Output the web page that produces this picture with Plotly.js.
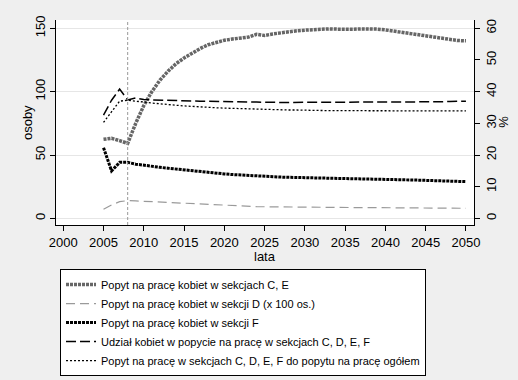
<!DOCTYPE html>
<html>
<head>
<meta charset="utf-8">
<script src="https://cdn.plot.ly/plotly-3.0.1.min.js"></script>
<style>html,body{margin:0;padding:0;background:#EFEFEF;}#chart{width:518px;height:380px;}</style>
</head>
<body>
<div id="chart"></div>
<script>
const years = [2005,2006,2007,2008,2009,2010,2011,2012,2013,2014,2015,2016,2017,2018,2019,2020,2021,2022,2023,2024,2025,2026,2027,2028,2029,2030,2031,2032,2033,2034,2035,2036,2037,2038,2039,2040,2041,2042,2043,2044,2045,2046,2047,2048,2049,2050];

const popytCE = [62.4,63.2,61.3,59.2,75,89,100,109,116,122,126.5,130.5,134,137,139,140.5,141.5,142.3,143,145.2,144.3,145.5,146.5,147.3,148,148.5,149,149.3,149.5,149.3,149.1,149.2,149.5,149.6,149.3,148.7,147.8,146.9,146,145,144.2,143.2,142.2,141.2,140.3,140.1];

const popytD = [7.2,10.6,13.2,14.0,13.8,13.5,13.2,12.9,12.6,12.3,11.9,11.5,11.1,10.7,10.4,10.1,9.9,9.7,9.5,9.3,9.2,9.1,9.0,8.95,8.9,8.85,8.8,8.75,8.7,8.65,8.6,8.55,8.5,8.5,8.45,8.4,8.35,8.3,8.3,8.25,8.2,8.15,8.1,8.1,8.05,8.0];

const popytF = [55.8,37.4,44.2,44.2,42.8,41.8,41.0,40.3,39.6,38.9,38.2,37.5,36.9,36.3,35.7,35.1,34.6,34.2,33.8,33.4,33.0,32.8,32.6,32.4,32.3,32.2,32.1,32.0,31.9,31.8,31.7,31.6,31.5,31.4,31.2,31.0,30.8,30.6,30.4,30.2,30.0,29.8,29.5,29.3,29.1,29.0];

const udzial = [32.6,37.3,40.8,37.4,38.0,37.5,37.4,37.3,37.2,37.2,37.1,37.1,37.0,37.0,36.9,36.9,36.8,36.8,36.7,36.7,36.6,36.6,36.6,36.6,36.6,36.6,36.6,36.6,36.6,36.6,36.6,36.6,36.6,36.6,36.6,36.7,36.7,36.7,36.7,36.7,36.8,36.8,36.8,36.9,36.9,37.0];

const relacja = [30.3,33.7,37.0,37.3,37.1,36.7,36.4,36.1,35.9,35.7,35.5,35.3,35.2,35.0,34.9,34.8,34.7,34.6,34.5,34.5,34.4,34.3,34.3,34.2,34.2,34.1,34.1,34.1,34.0,34.0,34.0,34.0,34.0,34.0,33.9,33.9,33.9,33.9,33.9,33.9,33.9,33.9,33.9,33.9,33.9,33.9];

const seriesNames = [
  "Popyt na pracę kobiet w sekcjach C, E",
  "Popyt na pracę kobiet w sekcji D (x 100 os.)",
  "Popyt na pracę kobiet w sekcji F",
  "Udział kobiet w popycie na pracę w sekcjach C, D, E, F",
  "Popyt na pracę w sekcjach C, D, E, F do popytu na pracę ogółem"
];

const xTicks = [2000,2005,2010,2015,2020,2025,2030,2035,2040,2045,2050];
const yTicksLeft = [0,50,100,150];
const yTicksRight = [0,10,20,30,40,50,60];
const refYear = [2008];
const axisTitles = {x: "lata", yLeft: "osoby", yRight: "%"};

const FONT = "Liberation Sans, Arial, Helvetica, sans-serif";

const traces = [
  {x: years, y: popytCE, name: seriesNames[0], type: 'scatter', mode: 'lines',
   line: {color: '#666666', width: 3.5, dash: '3px,1px'}},
  {x: years, y: popytD, name: seriesNames[1], type: 'scatter', mode: 'lines',
   line: {color: '#9A9A9A', width: 1.2, dash: '9px,5px'}},
  {x: years, y: popytF, name: seriesNames[2], type: 'scatter', mode: 'lines',
   line: {color: '#000000', width: 3, dash: '3px,1px'}},
  {x: years, y: udzial, name: seriesNames[3], type: 'scatter', mode: 'lines', yaxis: 'y2',
   line: {color: '#000000', width: 1.5, dash: '10px,4px'}},
  {x: years, y: relacja, name: seriesNames[4], type: 'scatter', mode: 'lines', yaxis: 'y2',
   line: {color: '#000000', width: 1.3, dash: '2px,2px'}}
];

const layout = {
  width: 518, height: 380,
  margin: {l: 56, r: 44, t: 20, b: 155, pad: 0, autoexpand: false},
  paper_bgcolor: '#EFEFEF',
  plot_bgcolor: '#FFFFFF',
  font: {family: FONT, size: 13, color: '#000'},
  showlegend: true,
  xaxis: {
    range: [1999.1, 2051.0], tickvals: xTicks, ticks: 'outside', ticklen: 5, tickcolor: '#000',
    showline: true, linecolor: '#000', linewidth: 1, showgrid: false, zeroline: false,
    tickfont: {size: 13}
  },
  yaxis: {
    range: [-5.2, 156.5], tickvals: yTicksLeft, tickangle: -90, ticks: 'outside', ticklen: 5, tickcolor: '#000',
    showline: true, linecolor: '#000', linewidth: 1, showgrid: true, gridcolor: '#E6E6E6', gridwidth: 1,
    zeroline: false, tickfont: {size: 13}
  },
  yaxis2: {
    overlaying: 'y', side: 'right',
    range: [-5.2/2.5, 156.5/2.5], tickvals: yTicksRight, tickangle: -90, ticks: 'outside', ticklen: 5, tickcolor: '#000',
    showline: true, linecolor: '#000', linewidth: 1, showgrid: false, zeroline: false,
    tickfont: {size: 13}
  },
  annotations: [
    {text: axisTitles.x, xref: 'paper', yref: 'paper', x: 0.5, y: -0.155, xanchor: 'center', yanchor: 'middle',
     showarrow: false, font: {size: 13}},
    {text: axisTitles.yLeft, xref: 'paper', yref: 'paper', x: -0.068, y: 0.5, xanchor: 'center', yanchor: 'middle',
     textangle: -90, showarrow: false, font: {size: 13}},
    {text: axisTitles.yRight, xref: 'paper', yref: 'paper', x: 1.07, y: 0.505, xanchor: 'center', yanchor: 'middle',
     textangle: -90, showarrow: false, font: {size: 13}}
  ],
  shapes: refYear.map(v => ({
    type: 'line', xref: 'x', yref: 'paper', x0: v, x1: v, y0: 0, y1: 1,
    line: {color: '#999999', width: 1, dash: '3px,2px'}
  })),
  legend: {
    x: 0.0096, y: -0.215, xanchor: 'left', yanchor: 'top',
    bgcolor: '#FFFFFF', bordercolor: '#000', borderwidth: 1,
    font: {size: 11, family: FONT}, traceorder: 'normal', orientation: 'v'
  }
};

Plotly.newPlot('chart', traces, layout, {displayModeBar: false, staticPlot: true});
</script>
</body>
</html>
